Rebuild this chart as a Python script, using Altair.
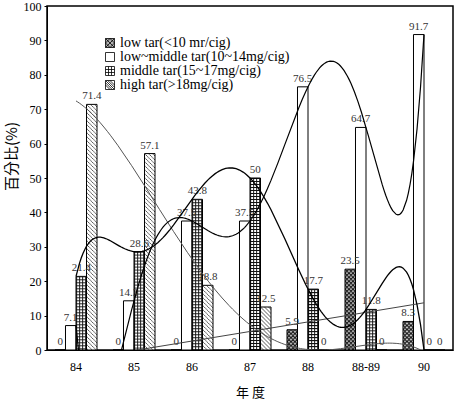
import base64
import altair as alt
import pandas as pd

# ---------------- data ----------------
categories = ["84", "85", "86", "87", "88", "88-89", "90"]
series_names = [
    "low tar(<10 mr/cig)",
    "low~middle tar(10~14mg/cig)",
    "middle tar(15~17mg/cig)",
    "high tar(>18mg/cig)",
]
low_tar = [0, 0, 0, 0, 5.9, 23.5, 8.3]
low_middle_tar = [7.1, 14.3, 37.5, 37.5, 76.5, 64.7, 91.7]
middle_tar = [21.4, 28.6, 43.8, 50, 17.7, 11.8, 0]
high_tar = [71.4, 57.1, 18.8, 12.5, 0, 0, 0]
y_ticks = [0, 10, 20, 30, 40, 50, 60, 70, 80, 90, 100]

rows = []
for name, vals in zip(series_names, [low_tar, low_middle_tar, middle_tar, high_tar]):
    for i, (c, v) in enumerate(zip(categories, vals)):
        rows.append({"cat": c, "idx": i, "series": name, "value": v})
df = pd.DataFrame(rows)


# ---------------- styles ----------------
def svg_uri(body):
    svg = '<svg xmlns="http://www.w3.org/2000/svg">' + body + "</svg>"
    return "data:image/svg+xml;base64," + base64.b64encode(svg.encode()).decode()


pat_low = svg_uri(
    '<defs><pattern id="p" width="4" height="4" patternUnits="userSpaceOnUse">'
    '<rect width="4" height="4" fill="#d8d8d8"/>'
    '<path d="M0,0L4,4M4,0L0,4" stroke="#111" stroke-width="1.1"/></pattern></defs>'
    '<rect width="100%" height="100%" fill="url(#p)"/>'
)
pat_mid = svg_uri(
    '<defs><pattern id="p" width="3" height="3" patternUnits="userSpaceOnUse">'
    '<rect width="3" height="3" fill="white"/>'
    '<path d="M0,0.5H3M0.5,0V3" stroke="#111" stroke-width="0.9"/></pattern></defs>'
    '<rect width="100%" height="100%" fill="url(#p)"/>'
)
pat_high = svg_uri(
    '<defs><pattern id="p" width="4" height="4" patternUnits="userSpaceOnUse">'
    '<rect width="4" height="4" fill="white"/>'
    '<path d="M-1,-1L5,5M-1,3L1,5M3,-1L5,1" stroke="#444" stroke-width="0.8"/></pattern></defs>'
    '<rect width="100%" height="100%" fill="url(#p)"/>'
)

sq = "M-1,-1H1V1H-1Z"
shape_paths = [
    sq + "M-1,0L0,-1M-1,1L1,-1M0,1L1,0M-1,0L0,1M-1,-1L1,1M0,-1L1,0",
    sq,
    sq + "M-1,-0.33H1M-1,0.33H1M-0.33,-1V1M0.33,-1V1",
    sq + "M-1,-0.5L0.5,1M-1,-1L1,1M-0.5,-1L1,0.5M-1,0L0,1M0,-1L1,0",
]
fill_range = ["#b0b0b0", "#ffffff", "#ffffff", "#ffffff"]
stroke_range = ["#000000", "#000000", "#000000", "#000000"]

SERIF = "Liberation Serif"
CJK = "Noto Sans CJK TC"

y_enc = alt.Y(
    "value:Q",
    scale=alt.Scale(domain=[0, 100], nice=False),
    axis=alt.Axis(
        title="百分比(%)", values=y_ticks, grid=False, tickSize=3, labelPadding=3,
        titleFont=CJK, titleFontSize=15, titleFontWeight="normal",
        titleX=-28, titleY=150,
    ),
)
x_enc = alt.X(
    "cat:N", sort=categories,
    scale=alt.Scale(domain=categories, paddingInner=0, paddingOuter=0),
    axis=alt.Axis(
        title="年 度", labelAngle=0, ticks=False, labelPadding=11,
        titleFont=CJK, titleFontSize=13, titleFontWeight="normal", titlePadding=14,
    ),
)
xoff_enc = alt.XOffset(
    "series:N", scale=alt.Scale(domain=series_names, paddingInner=0, paddingOuter=0.76)
)

base = alt.Chart(df)

bars_fill = base.mark_bar(fill="white").encode(x=x_enc, xOffset=xoff_enc, y=y_enc, y2=alt.Y2(datum=0))


def img_layer(name, uri):
    return (
        base.transform_filter(alt.datum.series == name)
        .transform_filter("datum.value > 0")
        .mark_image(aspect=False)
        .encode(x=x_enc, xOffset=xoff_enc, y=y_enc, y2=alt.Y2(datum=0), url=alt.value(uri))
    )


imgs = [
    img_layer(series_names[0], pat_low),
    img_layer(series_names[2], pat_mid),
    img_layer(series_names[3], pat_high),
]

bars_outline = base.mark_bar(fillOpacity=0, stroke="black", strokeWidth=1).encode(
    x=x_enc, xOffset=xoff_enc, y=y_enc, y2=alt.Y2(datum=0)
)

labels = base.mark_text(
    baseline="bottom", dy=-3, font=SERIF, fontSize=11, color="#333"
).encode(x=x_enc, xOffset=xoff_enc, y=y_enc, text=alt.Text("value:Q", format="~g"))

leg = alt.Legend(
    title=None, orient="none", legendX=56, legendY=30,
    labelFont=SERIF, labelFontSize=14, labelColor="black", labelLimit=400,
    symbolSize=81, symbolStrokeColor="black", symbolStrokeWidth=0.8,
    symbolOpacity=1, rowPadding=-4, labelOffset=3, padding=0,
)
legend_pts = base.mark_point(filled=True, opacity=0).encode(
    x=x_enc, xOffset=xoff_enc, y=y_enc,
    fill=alt.Fill("series:N", scale=alt.Scale(domain=series_names, range=fill_range), legend=leg),
    stroke=alt.Stroke("series:N", scale=alt.Scale(domain=series_names, range=stroke_range), legend=leg),
    shape=alt.Shape("series:N", scale=alt.Scale(domain=series_names, range=shape_paths), legend=leg),
)

band_layer = alt.layer(bars_fill, *imgs, bars_outline, legend_pts, labels)

x_lin = alt.X("idx:Q", scale=alt.Scale(domain=[-0.5, 6.5], nice=False, zero=False), axis=None)


def trend(name, method, order, color, width):
    t = base.transform_filter(alt.datum.series == name)
    if method == "poly":
        t = t.transform_regression("idx", "value", method="poly", order=order, extent=[0, 6])
    else:
        t = t.transform_regression("idx", "value", method="linear", extent=[0, 6])
    return t.mark_line(clip=True, color=color, strokeWidth=width).encode(x=x_lin, y=y_enc)


lines_layer = alt.layer(
    trend(series_names[3], "poly", 4, "#555555", 1.0),
    trend(series_names[0], "linear", 1, "#444444", 1.0),
    trend(series_names[1], "poly", 6, "black", 1.2),
    trend(series_names[2], "poly", 6, "black", 1.3),
)

chart = (
    alt.layer(band_layer, lines_layer)
    .resolve_scale(x="independent")
    .properties(
        width=406, height=344,
        autosize=alt.AutoSizeParams(type="none"),
        padding={"left": 47, "top": 6, "right": 4, "bottom": 51},
        background="white",
    )
    .configure_view(stroke="black", strokeWidth=1.5)
    .configure_axis(
        labelFont=SERIF, labelFontSize=12, labelColor="black",
        domainColor="black", tickColor="black", titleColor="black",
    )
)

chart.save("out.html", embed_options={"renderer": "svg", "actions": False})
